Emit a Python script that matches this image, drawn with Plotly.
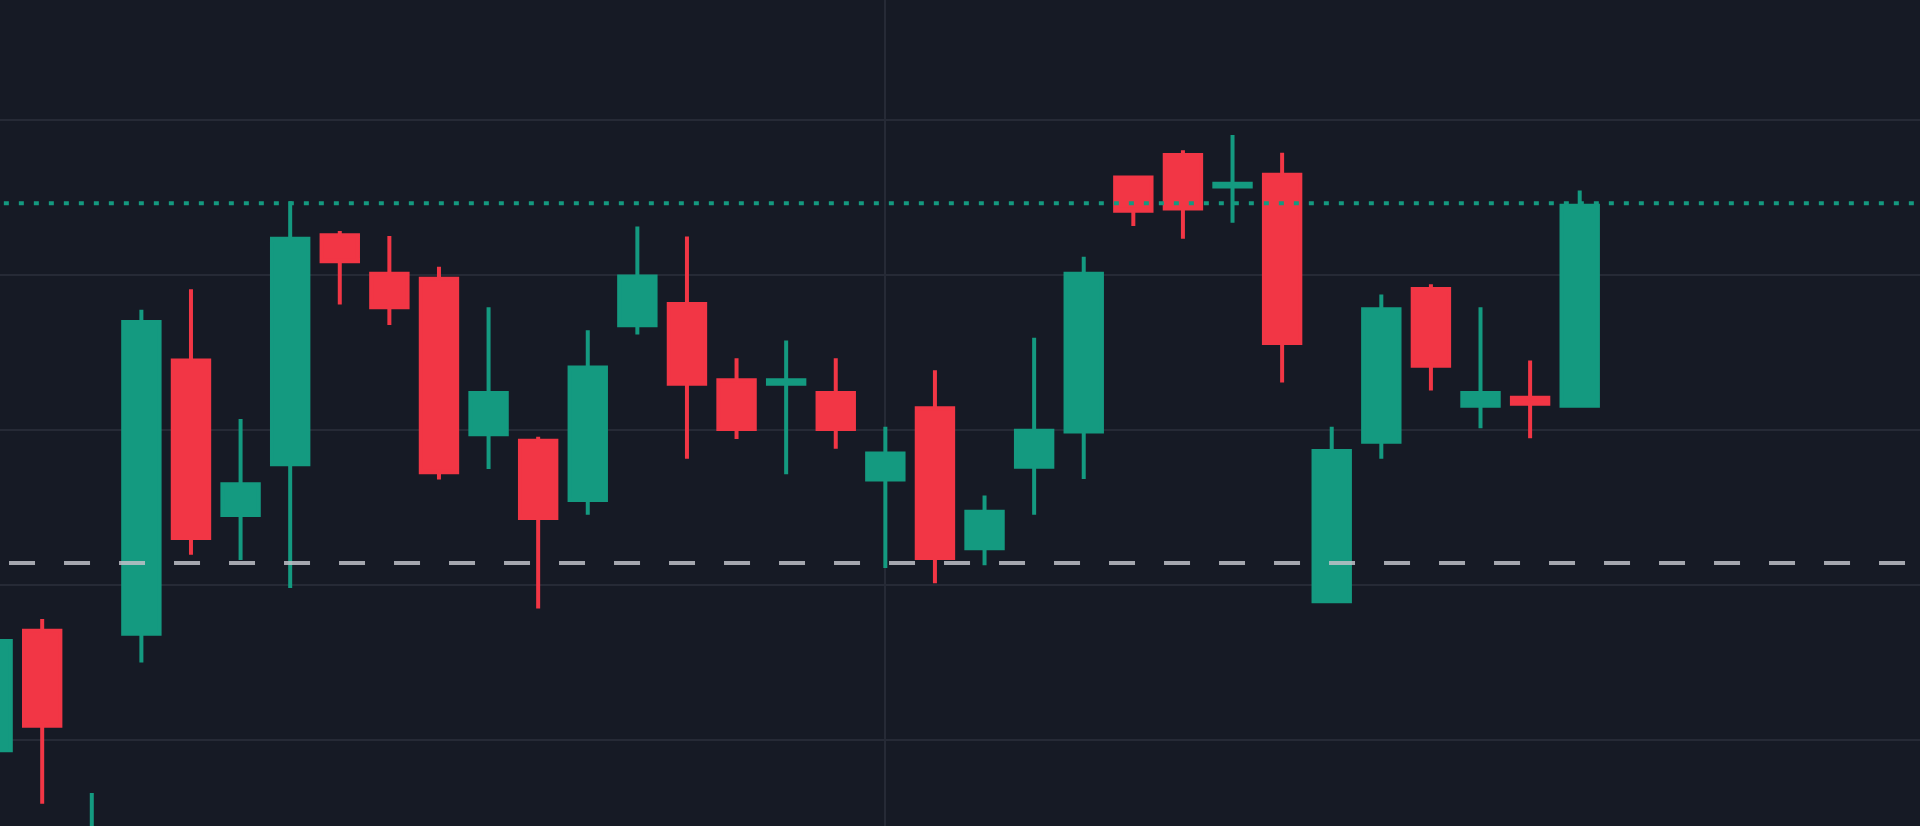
import plotly.graph_objects as go

# ---- data ----
dates = [
    "2024-01-01", "2024-01-02", "2024-01-03", "2024-01-04", "2024-01-05",
    "2024-01-06", "2024-01-07", "2024-01-08", "2024-01-09", "2024-01-10",
    "2024-01-11", "2024-01-12", "2024-01-13", "2024-01-14", "2024-01-15",
    "2024-01-16", "2024-01-17", "2024-01-18", "2024-01-19", "2024-01-20",
    "2024-01-21", "2024-01-22", "2024-01-23", "2024-01-24", "2024-01-25",
    "2024-01-26", "2024-01-27", "2024-01-28", "2024-01-29", "2024-01-30",
    "2024-01-31", "2024-02-01", "2024-02-02",
]
open_ = [99.68, 103.53, 92.92, 103.43, 112.24, 107.26, 108.89, 116.27, 115.03, 114.87,
         109.86, 109.65, 107.74, 113.37, 114.06, 111.60, 111.49, 111.19, 108.40, 110.70,
         106.19, 108.81, 109.95, 118.13, 118.86, 117.84, 118.22, 104.48, 109.62, 114.54,
         110.78, 111.04, 110.78]
high = [103.20, 103.91, 98.30, 113.87, 114.53, 110.35, 117.37, 116.41, 116.25, 115.26,
        113.95, 109.78, 113.21, 116.55, 116.23, 112.31, 112.88, 112.31, 110.10, 111.92,
        107.89, 112.97, 115.58, 118.13, 119.01, 119.50, 118.93, 110.10, 114.36, 114.69,
        113.95, 112.24, 117.71]
low = [99.68, 97.96, 91.63, 102.51, 105.98, 105.81, 104.91, 114.04, 113.38, 108.40,
       108.74, 104.25, 107.27, 113.07, 109.07, 109.71, 108.57, 109.39, 105.55, 105.06,
       105.64, 107.27, 108.42, 116.57, 116.16, 116.67, 111.53, 104.48, 109.07, 111.27,
       110.05, 109.73, 110.78]
close = [103.20, 100.47, 95.82, 113.48, 106.52, 108.25, 116.16, 115.43, 113.95, 108.64,
         111.19, 107.16, 112.01, 114.94, 111.49, 110.03, 111.60, 110.03, 109.24, 105.87,
         107.36, 109.97, 115.03, 117.06, 117.13, 117.93, 112.80, 109.32, 113.89, 112.07,
         111.19, 110.84, 117.22]

last_price_line = 117.30     # dotted price line
reference_line = 105.71      # dashed reference line
y_range = [97.24, 123.85]
x_range = ["2024-01-01 03:35", "2024-02-08 20:40"]
vertical_grid = ["2024-01-19"]

GREEN = "#149a80"
RED = "#f23645"
BG = "#161a25"
GRID = "#262a36"

fig = go.Figure(
    go.Candlestick(
        x=dates, open=open_, high=high, low=low, close=close,
        increasing=dict(line=dict(color=GREEN, width=4), fillcolor=GREEN),
        decreasing=dict(line=dict(color=RED, width=4), fillcolor=RED),
        whiskerwidth=0,
        hoverinfo="skip",
        showlegend=False,
    )
)

fig.add_shape(type="line", xref="paper", yref="y", x0=0.0047, x1=1, y0=reference_line, y1=reference_line,
              line=dict(color="rgba(190,193,200,0.85)", width=4, dash="26px,29px"), layer="above")
fig.add_shape(type="line", xref="paper", yref="y", x0=0.002, x1=1, y0=last_price_line, y1=last_price_line,
              line=dict(color=GREEN, width=4, dash="5px,10px"), layer="above")

fig.update_layout(
    width=1920, height=826,
    margin=dict(l=0, r=0, t=0, b=0),
    paper_bgcolor=BG, plot_bgcolor=BG,
    boxgap=0.266, boxgroupgap=0,
    showlegend=False,
    xaxis=dict(type="date", range=x_range, rangeslider=dict(visible=False),
               showgrid=True, gridcolor=GRID, gridwidth=2, tickmode="array", tickvals=vertical_grid,
               showticklabels=False, zeroline=False, showline=False, ticks=""),
    yaxis=dict(range=y_range, showgrid=True, gridcolor=GRID, gridwidth=2, tick0=0, dtick=5,
               showticklabels=False, zeroline=False, showline=False, ticks=""),
)

fig.write_html("out.html", config={"displayModeBar": False},
               post_script="document.body.style.margin='0';")
